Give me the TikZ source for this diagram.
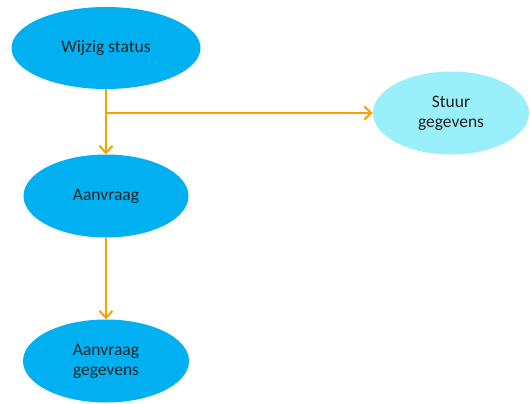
\documentclass[tikz,border=0pt]{standalone}
\usepackage{fontspec}
\setmainfont{Carlito}
\usetikzlibrary{shapes.geometric,arrows.meta}
\definecolor{blueA}{HTML}{00B0F0}
\definecolor{cyanL}{HTML}{99F0FA}
\definecolor{orangeL}{HTML}{F2A300}
\definecolor{txt}{HTML}{222222}
\tikzset{
  blob/.style={ellipse, fill=blueA, draw=none, inner sep=0pt, text=txt, align=center,
    font=\fontsize{17.5}{20}\selectfont},
  conn/.style={draw=orangeL, line width=2pt, -{Straight Barb[length=7pt,width=13pt,line width=2pt]}}
}
\begin{document}
\begin{tikzpicture}[x=1pt,y=-1pt]
\useasboundingbox (0,0) rectangle (530,404);
\node[blob, minimum width=189pt, minimum height=82pt] (ws) at (106,48) {Wijzig status};
\node[blob, minimum width=165pt, minimum height=83pt] (av) at (106,196) {Aanvraag};
\node[blob, minimum width=166pt, minimum height=83pt] (ag) at (106,361) {Aanvraag\\gegevens};
\node[blob, fill=cyanL, minimum width=156pt, minimum height=83pt] (sg) at (451,113) {Stuur\\gegevens};
\coordinate (br) at (ws.south |- sg.west);
\draw[conn] (ws.south) -- (av.north);
\draw[conn] (br) -- (sg.west);
\draw[conn] (av.south) -- (ag.north);
\end{tikzpicture}
\end{document}
